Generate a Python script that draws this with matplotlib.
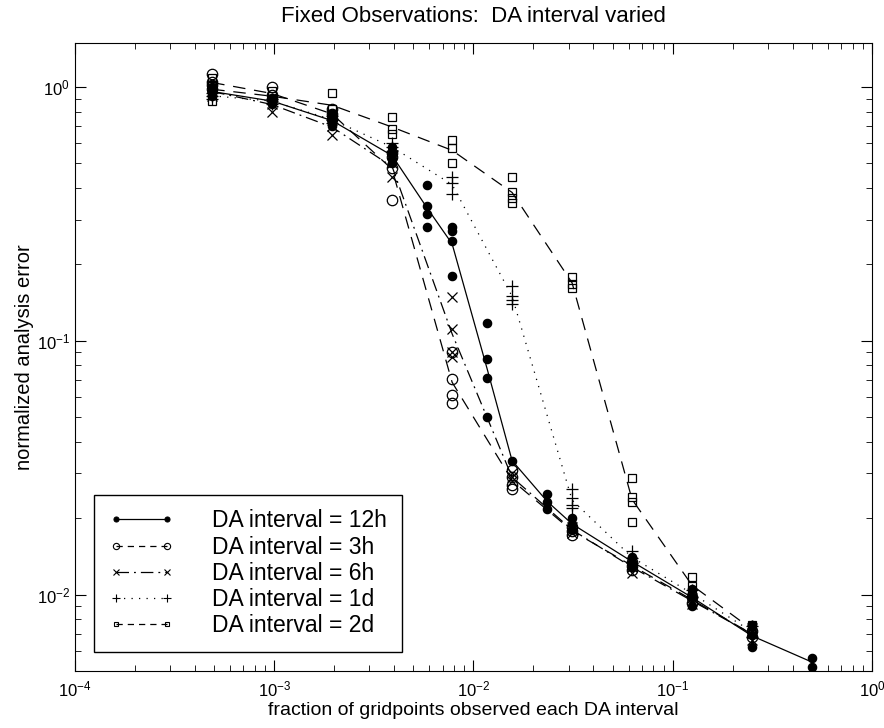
import numpy as np
import matplotlib.pyplot as plt
from matplotlib.lines import Line2D

plt.rcParams['font.family'] = ['Liberation Sans', 'DejaVu Sans']
plt.rcParams['mathtext.fontset'] = 'custom'
plt.rcParams['mathtext.rm'] = 'Liberation Sans'
plt.rcParams['mathtext.it'] = 'Liberation Sans:italic'

# fractions of gridpoints observed (x positions of the point columns)
x_base = [1/2048, 1/1024, 1/512, 1/256, 1/128, 1/64, 1/32, 1/16, 1/8, 1/4]
x_12h = [1/2048, 1/1024, 1/512, 1/256, 3/512, 1/128, 3/256, 1/64, 3/128,
         1/32, 1/16, 1/8, 1/4, 1/2]

# normalized analysis error, several runs per column
err_12h = [
    [1.0, 0.97, 0.95, 0.92],
    [0.9, 0.88, 0.86],
    [0.78, 0.75, 0.72, 0.70],
    [0.58, 0.55, 0.52, 0.50],
    [0.41, 0.34, 0.316, 0.28],
    [0.28, 0.27, 0.248, 0.18],
    [0.118, 0.085, 0.0715, 0.050],
    [0.0337],
    [0.025, 0.0232, 0.0218],
    [0.020, 0.019, 0.018],
    [0.0141, 0.0135, 0.0129],
    [0.0105, 0.0098, 0.009],
    [0.0076, 0.0069, 0.0062],
    [0.00565, 0.0052],
]
err_3h = [
    [1.12, 1.05, 1.02, 0.98],
    [1.0, 0.93, 0.9],
    [0.82, 0.78, 0.75],
    [0.55, 0.53, 0.48, 0.36],
    [0.09, 0.071, 0.061, 0.057],
    [0.031, 0.029, 0.027, 0.026],
    [0.0185, 0.0178, 0.0172],
    [0.0135, 0.013, 0.0125],
    [0.0098, 0.0093],
    [0.0072, 0.0068],
]
err_6h = [
    [1.0, 0.96, 0.92],
    [0.9, 0.86, 0.8],
    [0.74, 0.7, 0.647],
    [0.52, 0.5, 0.44],
    [0.149, 0.111, 0.09, 0.0865],
    [0.03, 0.029, 0.028],
    [0.0185, 0.018, 0.0175],
    [0.0135, 0.0128, 0.0122],
    [0.0097, 0.0092],
    [0.0074, 0.0066],
]
err_1d = [
    [0.95, 0.92, 0.9],
    [0.9, 0.88, 0.86],
    [0.77, 0.74, 0.72],
    [0.6, 0.58, 0.56],
    [0.44, 0.42, 0.38],
    [0.165, 0.15, 0.145, 0.14],
    [0.026, 0.024, 0.0225, 0.022],
    [0.0148, 0.014, 0.0133],
    [0.0104, 0.0098],
    [0.0075, 0.0068],
]
err_2d = [
    [1.08, 1.02, 0.95, 0.88],
    [0.96, 0.92, 0.88],
    [0.95, 0.82, 0.78],
    [0.76, 0.68, 0.65],
    [0.62, 0.575, 0.50],
    [0.44, 0.386, 0.366, 0.35],
    [0.178, 0.168, 0.162],
    [0.0289, 0.0243, 0.0232, 0.0194],
    [0.0117, 0.0108, 0.0102],
    [0.0076, 0.007],
]

labels = ['DA interval = 12h', 'DA interval = 3h', 'DA interval = 6h',
          'DA interval = 1d', 'DA interval = 2d']

series = [
    (x_12h, err_12h, '-', 'o', 'k', 6),
    (x_base, err_3h, (0, (10, 7)), 'o', 'none', 7.5),
    (x_base, err_6h, (0, (10, 4, 1.5, 4)), 'x', 'none', 6.5),
    (x_base, err_1d, (0, (1, 5)), '+', 'none', 9),
    (x_base, err_2d, (0, (10, 7)), 's', 'none', 6),
]

fig = plt.figure(figsize=(8.84, 7.28), dpi=100)
ax = fig.add_axes([0.0848, 0.0783, 0.9016, 0.8626])

handles = []
for (xs, errs, ls, mk, fc, ms), lab in zip(series, labels):
    # line through the geometric mean of each column
    mean = [np.exp(np.mean(np.log(e))) for e in errs]
    ax.plot(xs, mean, color='k', ls=ls, lw=0.9)
    px = [x for x, e in zip(xs, errs) for _ in e]
    py = [v for e in errs for v in e]
    ax.plot(px, py, ls='none', marker=mk, ms=ms, mfc=fc, mec='k', mew=0.9)
    hls = ls if ls == '-' else (0, (5, 4)) if mk in 'os' else ls
    handles.append(Line2D([], [], color='k', ls=hls, lw=0.9, marker=mk,
                          ms=ms * 0.6, mfc=fc, mec='k', mew=0.8))

ax.set_xscale('log')
ax.set_yscale('log')
ax.set_xlim(1e-4, 1)
ax.set_ylim(0.005, 1.49)
ax.tick_params(which='both', direction='in', top=True, right=True,
               labelsize=12)
ax.tick_params(axis='x', pad=6)
ax.tick_params(which='major', length=8)
ax.tick_params(which='minor', length=4)
ax.set_xlabel('fraction of gridpoints observed each DA interval', fontsize=14,
              labelpad=2)
ax.set_ylabel('normalized analysis error', fontsize=14.5, labelpad=2)
ax.yaxis.set_label_coords(-0.052, 0.5)
ax.set_title('Fixed Observations:  DA interval varied', fontsize=16, pad=15)

leg = ax.legend(handles, labels, loc='lower left',
                bbox_to_anchor=(0.024, 0.030), borderaxespad=0,
                fontsize=16.5, numpoints=2, handlelength=2.85,
                handletextpad=1.65, labelspacing=0.14, fancybox=False,
                edgecolor='k', framealpha=1, borderpad=0.65)
leg.get_frame().set_linewidth(1.0)

fig.savefig('out.png', dpi=100)
